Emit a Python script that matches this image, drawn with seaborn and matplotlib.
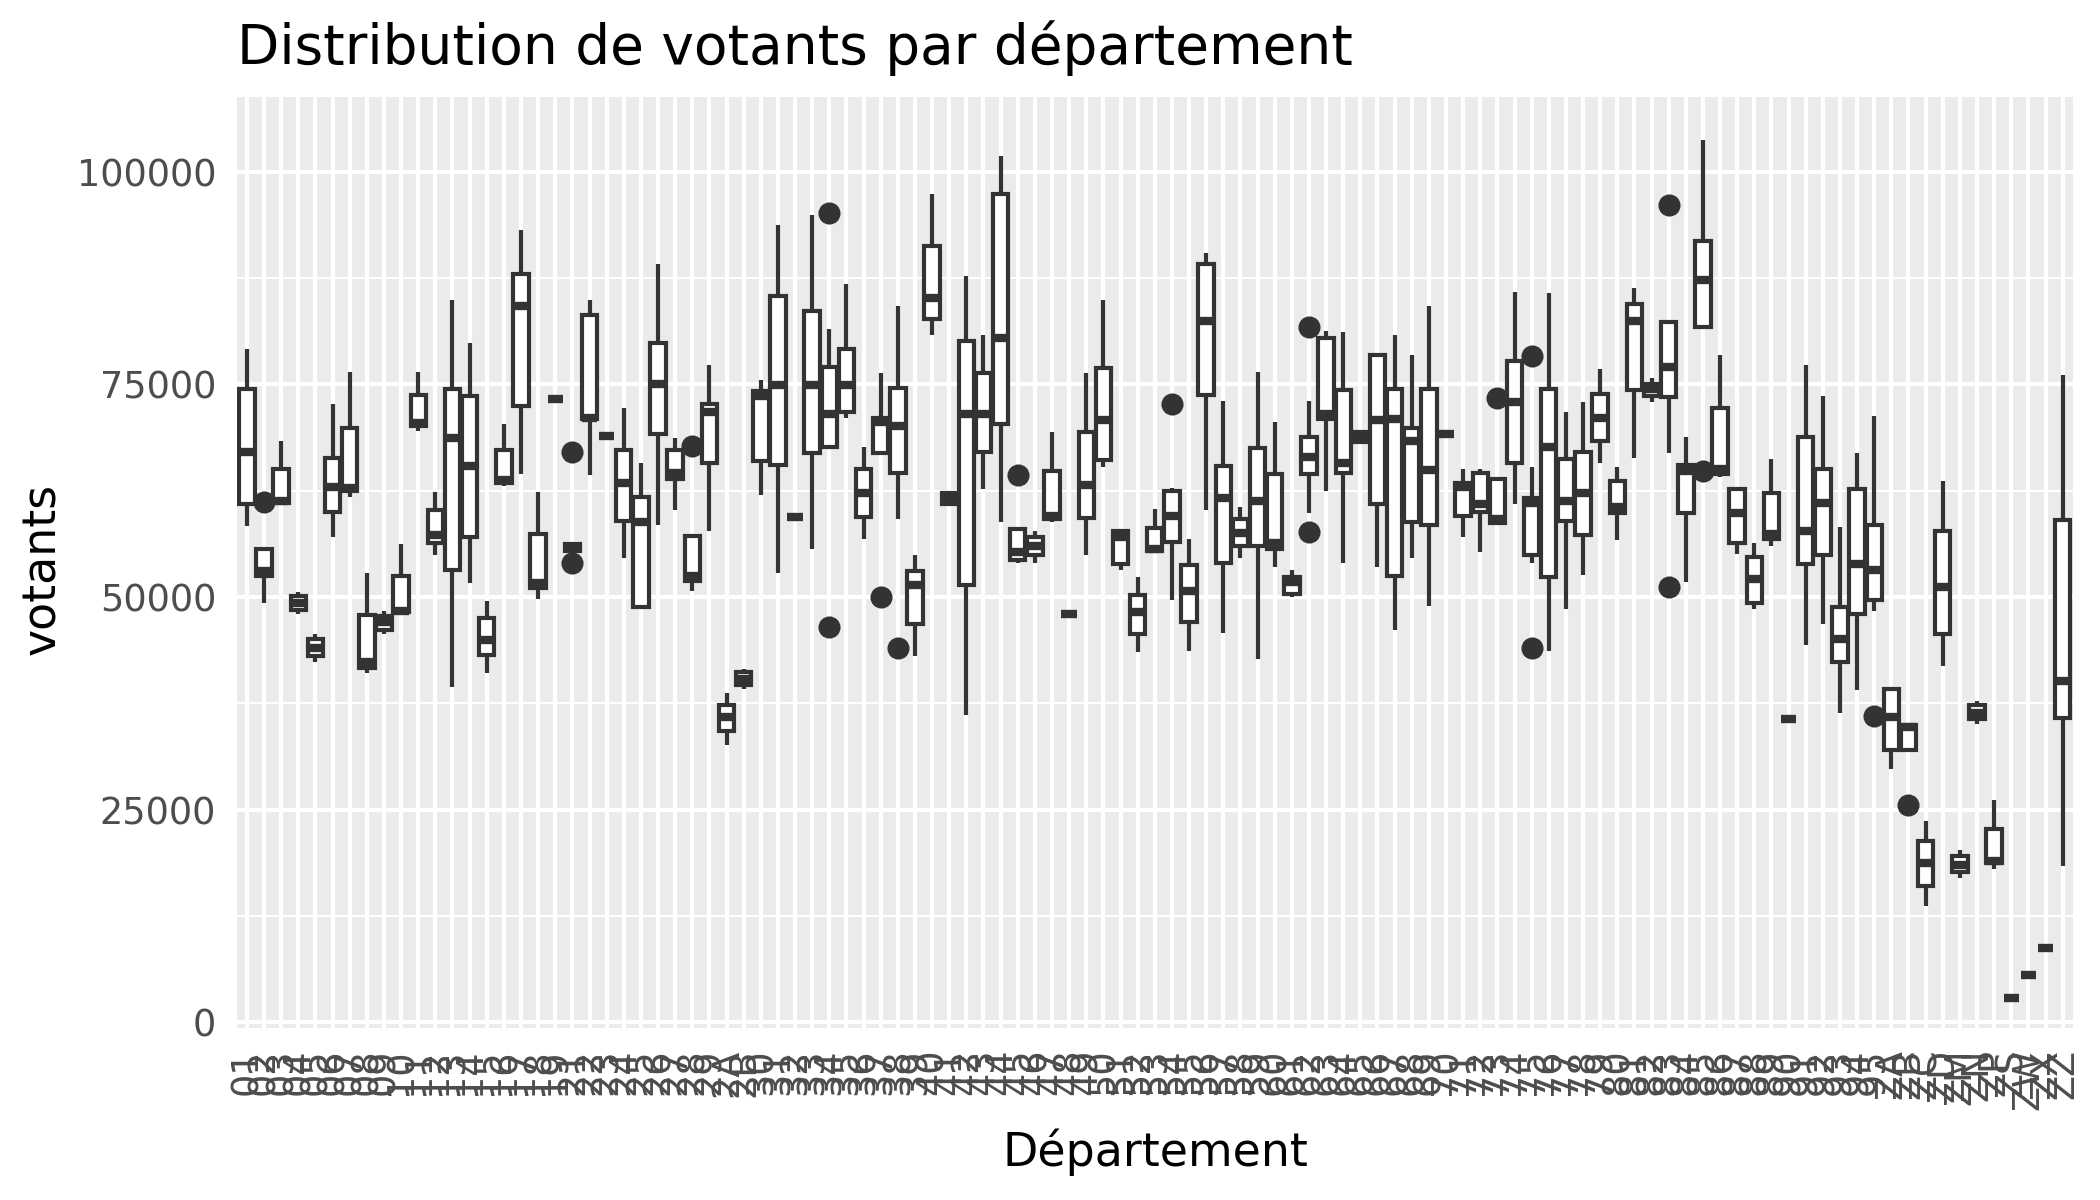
import numpy as np
import pandas as pd
import matplotlib
matplotlib.use("Agg")
import matplotlib.pyplot as plt
import seaborn as sns
from matplotlib.ticker import FixedLocator

# departements, in the order of the x axis
deps = ["01", "02", "03", "04", "05", "06", "07", "08", "09", "10",
        "11", "12", "13", "14", "15", "16", "17", "18", "19", "21",
        "22", "23", "24", "25", "26", "27", "28", "29", "2A", "2B",
        "30", "31", "32", "33", "34", "35", "36", "37", "38", "39",
        "40", "41", "42", "43", "44", "45", "46", "47", "48", "49",
        "50", "51", "52", "53", "54", "55", "56", "57", "58", "59",
        "60", "61", "62", "63", "64", "65", "66", "67", "68", "69",
        "70", "71", "72", "73", "74", "75", "76", "77", "78", "79",
        "80", "81", "82", "83", "84", "85", "86", "87", "88", "89",
        "90", "91", "92", "93", "94", "95", "ZA", "ZB", "ZC", "ZD",
        "ZM", "ZN", "ZP", "ZS", "ZW", "ZX", "ZZ"]

# box statistics (votants)
whisk_lo = [58300, 49300, 61100, 48000, 42300, 57000, 61800, 41100, 45600, 48200,
            69500, 54900, 39400, 51600, 41100, 63000, 64400, 49800, 73300, 55400,
            64300, 68900, 54600, 48600, 58500, 60200, 50700, 57700, 32600, 39200,
            62000, 52800, 59400, 55600, 67600, 71100, 56800, 66900, 59200, 43000,
            80800, 60900, 36100, 62700, 58800, 54000, 54000, 58800, 48000, 54900,
            65300, 53200, 43500, 55400, 49600, 43700, 60200, 45800, 54600, 42700,
            53500, 50000, 59900, 62500, 54000, 68200, 53500, 46100, 54600, 48900,
            69200, 57000, 55300, 58700, 60900, 54000, 43700, 48600, 52600, 65800,
            56700, 66300, 72900, 66900, 51800, 81800, 64100, 55100, 48600, 56000,
            35700, 44400, 46800, 36300, 39100, 48400, 29800, 32000, 13600, 41900,
            16900, 35100, 18000, 2800, 5500, 8700, 18300]
q1 = [60900, 52500, 61100, 48500, 43000, 60000, 62500, 41700, 46100, 48200,
      70100, 56300, 53200, 57000, 43200, 63400, 72500, 51100, 73300, 55400,
      70900, 68900, 58900, 48800, 69200, 63900, 51900, 65800, 34200, 39600,
      66000, 65500, 59400, 66900, 67600, 71800, 59400, 66900, 64600, 46800,
      82700, 60900, 51400, 67100, 70300, 54400, 54900, 59200, 48000, 59300,
      66100, 53900, 45600, 55400, 56500, 47000, 73700, 54000, 56000, 56000,
      55600, 50400, 64400, 70900, 64600, 68200, 60900, 52500, 58800, 58500,
      69200, 59500, 60000, 58700, 65800, 54900, 52300, 58900, 57300, 68300,
      59900, 74300, 73600, 73500, 59900, 81800, 64400, 56300, 49300, 56800,
      35700, 53900, 54900, 42300, 48000, 49600, 32000, 32000, 16000, 45600,
      17600, 35600, 18700, 2800, 5500, 8700, 35800]
median = [67000, 53000, 61300, 49300, 44000, 62900, 62800, 42300, 47000, 48400,
          70400, 57300, 68700, 65400, 44900, 63700, 84200, 51600, 73300, 55900,
          71100, 68900, 63400, 58800, 75000, 64600, 52500, 71800, 35900, 40400,
          73600, 74900, 59400, 74900, 71500, 74900, 62200, 70600, 70100, 51400,
          85200, 61600, 71500, 71500, 80500, 55300, 56000, 59500, 48000, 63200,
          70800, 57000, 48200, 55600, 59500, 50700, 82400, 61600, 57500, 61300,
          56300, 51800, 66500, 71500, 65800, 68800, 70800, 70900, 68300, 64900,
          69200, 62900, 60900, 59200, 72900, 61100, 67600, 61300, 62200, 71100,
          60600, 82400, 74400, 77100, 64800, 87300, 65000, 59900, 52100, 57400,
          35700, 57700, 61100, 45100, 53900, 53200, 35900, 34700, 18700, 51200,
          18500, 36300, 19000, 2800, 5500, 8700, 40100]
q3 = [74500, 55600, 65000, 50100, 45100, 66300, 69900, 47900, 47700, 52500,
      73700, 60200, 74500, 73600, 47500, 67300, 88000, 57400, 73300, 56200,
      83100, 68900, 67300, 61800, 79900, 67300, 57200, 72700, 37300, 41200,
      74200, 85400, 59400, 83600, 77100, 79100, 65000, 71100, 74600, 53000,
      91300, 62200, 80100, 76300, 97400, 58000, 57000, 64800, 48000, 69400,
      76900, 57700, 50200, 58100, 62500, 53700, 89100, 65400, 59200, 67500,
      64400, 52300, 68800, 80500, 74300, 69400, 78400, 74500, 69900, 74500,
      69200, 63400, 64600, 63900, 77800, 61600, 74500, 66200, 67100, 73900,
      63600, 84400, 75100, 82300, 65500, 91900, 72200, 62700, 54700, 62200,
      35700, 68800, 65100, 48800, 62700, 58500, 39200, 34900, 21300, 57700,
      19500, 37300, 22700, 2800, 5500, 8700, 59100]
whisk_hi = [79200, 55600, 68300, 50600, 45600, 72700, 76400, 52800, 48400, 56200,
            76400, 62300, 84900, 79900, 49500, 70300, 93100, 62300, 73300, 56200,
            84900, 68900, 72200, 65800, 89200, 68700, 57200, 77300, 38700, 41500,
            75500, 93700, 59400, 94900, 81500, 86800, 67600, 76300, 84200, 54900,
            97400, 62200, 87700, 80800, 101800, 58000, 57700, 69400, 48000, 76300,
            84900, 57700, 52300, 60400, 62800, 56800, 90400, 73100, 60600, 76400,
            70600, 53200, 73100, 81300, 81100, 69400, 78400, 80800, 78500, 84200,
            69200, 65000, 65000, 63900, 85900, 65300, 85800, 71800, 72900, 76800,
            65300, 86300, 75800, 82300, 68800, 103700, 78500, 62700, 56300, 66200,
            35700, 77300, 73600, 58200, 66900, 71300, 39200, 34900, 23600, 63600,
            20200, 37800, 26100, 2800, 5500, 8700, 76100]

outlier_deps = ["02", "21", "21", "28", "34", "34", "37", "38", "45", "54",
                "62", "62", "73", "75", "75", "83", "83", "85", "95", "ZB"]
outlier_vals = [61200, 54000, 67000, 67800, 46500, 95200, 50000, 44000, 64300, 72700,
                57600, 81800, 73400, 44000, 78300, 51200, 96100, 64800, 36000, 25500]

# long table for seaborn: 9 points per departement keep the quartiles in place
rows = []
for i, d in enumerate(deps):
    vals = [whisk_lo[i], whisk_lo[i], q1[i], median[i], median[i], median[i],
            q3[i], whisk_hi[i], whisk_hi[i]]
    for od, ov in zip(outlier_deps, outlier_vals):
        if od == d:
            if ov < q1[i]:
                vals[0] = ov
            else:
                vals[-1] = ov
    rows += [(d, v) for v in vals]
df = pd.DataFrame(rows, columns=["dep", "votants"])

y_ticks = [0, 25000, 50000, 75000, 100000]
y_minor = [12500, 37500, 62500, 87500]

sns.set_style("darkgrid", {"axes.facecolor": "#EBEBEB", "grid.color": "white"})
plt.rcParams["font.family"] = ["DejaVu Sans"]

fig = plt.figure(figsize=(7, 4), dpi=300)
ax = fig.add_axes([0.1127, 0.1433, 0.8744, 0.7759])

sns.boxplot(data=df, x="dep", y="votants", order=deps, color="white",
            saturation=1, linecolor="#333333", linewidth=1.0, width=0.9,
            fliersize=4.3, showcaps=False, medianprops={"linewidth": 2.0},
            flierprops={"marker": "o", "markerfacecolor": "#333333",
                        "markeredgecolor": "#333333"},
            ax=ax)

ax.set_xlim(-0.6, len(deps) - 0.4)
ax.set_ylim(-700, 108800)

ax.set_axisbelow(True)
ax.set_yticks(y_ticks)
ax.set_yticklabels([str(t) for t in y_ticks])
ax.yaxis.set_minor_locator(FixedLocator(y_minor))
ax.set_xticks(range(len(deps)))
ax.set_xticklabels(deps, rotation=90)
ax.grid(which="major", color="white", linewidth=1.0)
ax.grid(which="minor", axis="y", color="white", linewidth=0.5)
ax.tick_params(which="major", length=2.75, width=1.0, color="#333333",
               labelsize=8.8, labelcolor="#4D4D4D", pad=2.2)
ax.tick_params(which="minor", length=0)
for s in ax.spines.values():
    s.set_visible(False)
ax.set_xlabel("")
ax.set_ylabel("")

fig.text(0.1127, 1 - 64 / 1200, "Distribution de votants par département",
         fontsize=13.2, ha="left", va="baseline", color="black")
fig.text(43 / 2100, 1 - 569 / 1200, "votants", fontsize=11, rotation=90,
         ha="center", va="center", color="black")
fig.text(1155 / 2100, 1 - 1152 / 1200, "Département", fontsize=11,
         ha="center", va="center", color="black")

fig.savefig("out.png", dpi=300)
